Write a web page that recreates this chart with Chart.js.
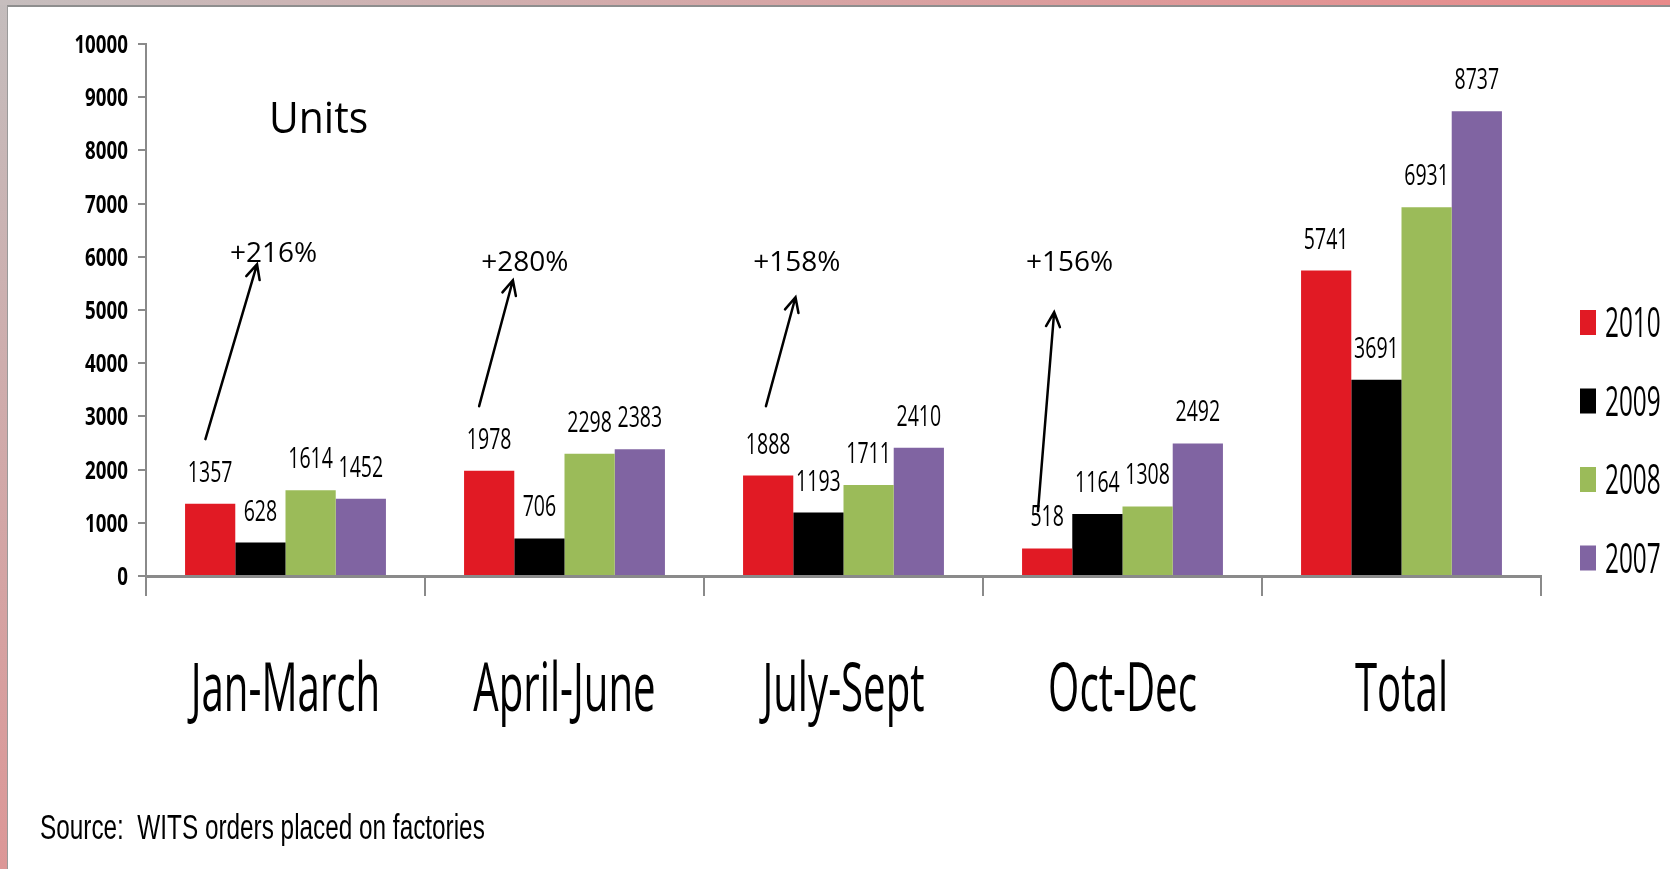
<!DOCTYPE html>
<html>
<head>
<meta charset="utf-8">
<script src="https://cdn.jsdelivr.net/npm/chart.js@4/dist/chart.umd.min.js"></script>
<style>
  html, body { margin: 0; padding: 0; width: 1670px; height: 869px; overflow: hidden; }
  body { background: linear-gradient(to bottom, #c4bdbd, #dc9797); position: relative; }
  #topband { position: absolute; left: 0; top: 0; width: 1670px; height: 5px;
             background: linear-gradient(to right, #c6bebe, #e98a8a); }
  #panel { position: absolute; left: 7px; top: 5px; right: 0; bottom: 0; background: #fff;
           border-left: 1px solid #9a9a9a; border-top: 2px solid #8e8e8e; }
  canvas { position: absolute; left: 0; top: 0; }
</style>
</head>
<body>
<div id="topband"></div>
<div id="panel"></div>
<canvas id="c" width="1670" height="869"></canvas>
<script>
// Chart data
var categories = ['Jan-March', 'April-June', 'July-Sept', 'Oct-Dec', 'Total'];
var years = ['2010', '2009', '2008', '2007'];
var units2010 = [1357, 1978, 1888, 518, 5741];
var units2009 = [628, 706, 1193, 1164, 3691];
var units2008 = [1614, 2298, 1711, 1308, 6931];
var units2007 = [1452, 2383, 2410, 2492, 8737];
var yTickLabels = ['0', '1000', '2000', '3000', '4000', '5000', '6000', '7000', '8000', '9000', '10000'];
var growthLabels = ['+216%', '+280%', '+158%', '+156%'];

var COLORS = ['#E11A24', '#000000', '#9BBB59', '#8064A2'];
var series = [units2010, units2009, units2008, units2007];

// arrow placement in data space: category offset (fraction of a category) and value
var arrowSpots = [
  { from: [-0.287, 2573], to: [-0.102, 5859], text: [-0.043, 6084] },
  { from: [-0.306, 3192], to: [-0.185, 5559], text: [-0.142, 5915] },
  { from: [-0.278, 3192], to: [-0.172, 5239], text: [-0.167, 5915] },
  { from: [-0.303, 1221], to: [-0.245, 4958], text: [-0.19, 5915] }
];

function squeezeText(ctx, text, x, y, font, sx, align) {
  ctx.save();
  ctx.font = font;
  ctx.fillStyle = '#000';
  ctx.textAlign = align || 'center';
  ctx.textBaseline = 'alphabetic';
  ctx.translate(x, y);
  ctx.scale(sx, 1);
  ctx.fillText(text, 0, 0);
  ctx.restore();
}

function arrow(ctx, x1, y1, x2, y2) {
  var ang = Math.atan2(y2 - y1, x2 - x1);
  var head = 16, spread = 0.45;
  ctx.save();
  ctx.strokeStyle = '#000';
  ctx.lineWidth = 2.5;
  ctx.lineCap = 'round';
  ctx.beginPath();
  ctx.moveTo(x1, y1);
  ctx.lineTo(x2, y2);
  ctx.moveTo(x2 - head * Math.cos(ang - spread), y2 - head * Math.sin(ang - spread));
  ctx.lineTo(x2, y2);
  ctx.lineTo(x2 - head * Math.cos(ang + spread), y2 - head * Math.sin(ang + spread));
  ctx.stroke();
  ctx.restore();
}

var textPlugin = {
  id: 'slideText',
  afterDraw: function(chart) {
    var ctx = chart.ctx;
    var xs = chart.scales.x, ys = chart.scales.y;
    var catW = xs.getPixelForValue(1) - xs.getPixelForValue(0);

    // y tick labels
    yTickLabels.forEach(function(t) {
      var py = ys.getPixelForValue(Number(t));
      squeezeText(ctx, t, 128, py + 9, 'bold 25px "Open Sans"', 0.75, 'right');
    });

    // category labels
    categories.forEach(function(c, i) {
      squeezeText(ctx, c, xs.getPixelForValue(i), 711, '67px "Open Sans"', 0.6, 'center');
    });

    // value labels above bars
    chart.data.datasets.forEach(function(ds, di) {
      var meta = chart.getDatasetMeta(di);
      meta.data.forEach(function(bar, i) {
        squeezeText(ctx, String(ds.data[i]), bar.x, bar.y - 22, '30px "Open Sans"', 0.65, 'center');
      });
    });

    // legend
    years.forEach(function(y, i) {
      var cy = 322 + i * 78.5;
      ctx.fillStyle = COLORS[i];
      ctx.fillRect(1580, cy - 12, 16, 25);
      squeezeText(ctx, y, 1605, cy + 15, '42px "Open Sans"', 0.58, 'left');
    });

    // growth arrows
    arrowSpots.forEach(function(a, i) {
      var cx = xs.getPixelForValue(i);
      arrow(ctx, cx + a.from[0] * catW, ys.getPixelForValue(a.from[1]),
                 cx + a.to[0] * catW, ys.getPixelForValue(a.to[1]));
      squeezeText(ctx, growthLabels[i], cx + a.text[0] * catW, ys.getPixelForValue(a.text[1]) + 10,
                  '28px "Open Sans"', 1, 'center');
    });

    // titles
    squeezeText(ctx, 'Units', 269, 133, '43px "Open Sans"', 0.95, 'left');
    squeezeText(ctx, 'Source:  WITS orders placed on factories', 40, 839, '35px "Liberation Sans"', 0.695, 'left');
  }
};

new Chart(document.getElementById('c').getContext('2d'), {
  type: 'bar',
  data: {
    labels: categories,
    datasets: years.map(function(y, i) {
      return {
        label: y,
        data: series[i],
        backgroundColor: COLORS[i],
        borderWidth: 0,
        categoryPercentage: 0.72,
        barPercentage: 1.0
      };
    })
  },
  options: {
    responsive: false,
    animation: false,
    layout: { padding: { left: 138, right: 129, top: 44, bottom: 273 } },
    plugins: {
      legend: { display: false },
      tooltip: { enabled: false }
    },
    scales: {
      x: {
        grid: { offset: true, drawOnChartArea: false, drawTicks: true, tickLength: 20, color: '#8a8a8a', lineWidth: 2 },
        border: { color: '#8a8a8a', width: 3 },
        ticks: { display: false }
      },
      y: {
        min: 0,
        max: 10000,
        ticks: { stepSize: 1000, display: false },
        grid: { drawOnChartArea: false, drawTicks: true, tickLength: 8, color: '#8a8a8a', lineWidth: 2 },
        border: { color: '#8a8a8a', width: 2 }
      }
    }
  },
  plugins: [textPlugin]
});
</script>
</body>
</html>
